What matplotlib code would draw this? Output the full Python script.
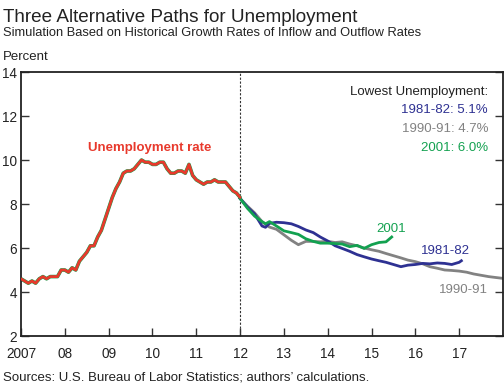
import numpy as np
import matplotlib
matplotlib.use("Agg")
import matplotlib.pyplot as plt

plt.rcParams['font.family'] = ['Liberation Sans', 'DejaVu Sans']

# actual unemployment rate, monthly Jan 2007 - Jan 2012
actual = [4.6, 4.5, 4.4, 4.5, 4.4, 4.6, 4.7, 4.6, 4.7, 4.7, 4.7, 5.0,
          5.0, 4.9, 5.1, 5.0, 5.4, 5.6, 5.8, 6.1, 6.1, 6.5, 6.8, 7.3,
          7.8, 8.3, 8.7, 9.0, 9.4, 9.5, 9.5, 9.6, 9.8, 10.0, 9.9, 9.9,
          9.8, 9.8, 9.9, 9.9, 9.6, 9.4, 9.4, 9.5, 9.5, 9.4, 9.8, 9.3,
          9.1, 9.0, 8.9, 9.0, 9.0, 9.1, 9.0, 9.0, 9.0, 8.8, 8.6, 8.5,
          8.3]
actual_t = 2007 + np.arange(len(actual)) / 12

# simulated paths, read every ~2 months
t_9091 = [2012.0, 2012.17, 2012.33, 2012.5, 2012.67, 2012.83, 2013.0, 2013.17,
          2013.33, 2013.5, 2013.67, 2013.83, 2014.0, 2014.17, 2014.33, 2014.5,
          2014.67, 2014.83, 2015.0, 2015.17, 2015.33, 2015.5, 2015.67, 2015.83,
          2016.0, 2016.17, 2016.33, 2016.5, 2016.67, 2016.83, 2017.0, 2017.17,
          2017.33, 2017.5, 2017.67, 2017.83, 2018.0]
v_9091 = [8.25, 7.9, 7.6, 7.2, 6.95, 6.85, 6.6, 6.35,
          6.15, 6.3, 6.3, 6.28, 6.3, 6.25, 6.28, 6.18,
          6.1, 6.0, 5.92, 5.85, 5.75, 5.65, 5.55, 5.45,
          5.38, 5.28, 5.15, 5.08, 5.0, 4.98, 4.95, 4.9,
          4.82, 4.76, 4.7, 4.66, 4.62]

t_8182 = [2012.0, 2012.17, 2012.33, 2012.5, 2012.58, 2012.67, 2012.83, 2013.0,
          2013.17, 2013.33, 2013.5, 2013.67, 2013.83, 2014.0, 2014.17, 2014.33,
          2014.5, 2014.67, 2014.83, 2015.0, 2015.17, 2015.33, 2015.5, 2015.67,
          2015.83, 2016.0, 2016.17, 2016.33, 2016.5, 2016.67, 2016.83, 2017.0,
          2017.05]
v_8182 = [8.25, 7.85, 7.55, 7.0, 6.94, 7.12, 7.17, 7.15,
          7.1, 6.98, 6.82, 6.7, 6.5, 6.32, 6.1, 5.98,
          5.85, 5.7, 5.6, 5.5, 5.42, 5.35, 5.25, 5.15,
          5.22, 5.25, 5.3, 5.28, 5.32, 5.3, 5.25, 5.35,
          5.42]

t_2001 = [2012.0, 2012.17, 2012.33, 2012.5, 2012.58, 2012.67, 2012.83, 2013.0,
          2013.17, 2013.33, 2013.5, 2013.67, 2013.83, 2014.0, 2014.17, 2014.33,
          2014.5, 2014.67, 2014.83, 2015.0, 2015.17, 2015.33, 2015.46]
v_2001 = [8.25, 7.8, 7.45, 7.2, 7.1, 7.2, 7.0, 6.78,
          6.7, 6.62, 6.42, 6.3, 6.22, 6.22, 6.2, 6.18,
          6.06, 6.12, 5.98, 6.15, 6.25, 6.28, 6.5]

xtick_pos = list(range(2007, 2018))
xtick_lab = ['2007', '08', '09', '10', '11', '12', '13', '14', '15', '16', '17']

red = '#e8392c'
blue = '#2e3192'
gray = '#828282'
green = '#13a150'
dark = '#222222'

fig = plt.figure(figsize=(5.04, 3.85), dpi=100)
ax = fig.add_axes([21 / 504, 49 / 385, 482 / 504, 264 / 385])

ax.plot(actual_t, actual, color=green, lw=2.6, solid_capstyle='round', zorder=2)
ax.plot(actual_t, actual, color=red, lw=2.0, solid_capstyle='round', zorder=3)
ax.plot(t_9091, v_9091, color=gray, lw=2.0, zorder=2)
ax.plot(t_8182, v_8182, color=blue, lw=2.0, zorder=2)
ax.plot(t_2001, v_2001, color=green, lw=2.0, zorder=2)

ax.axvline(2012, color='#333333', lw=0.8, ls=(0, (2, 1.5)), zorder=1)

ax.set_xlim(2007, 2018)
ax.set_ylim(2, 14)
ax.set_xticks(xtick_pos)
ax.set_xticklabels(xtick_lab)
ax.set_yticks(range(2, 15, 2))
ax.tick_params(axis='both', direction='in', length=6, width=1.0, color='#333333',
               labelsize=9.8, labelcolor=dark)
ax.tick_params(axis='y', right=True, pad=3)
ax.tick_params(axis='x', pad=8)
for s in ax.spines.values():
    s.set_linewidth(1.3)
    s.set_color('#222222')

fig.text(3 / 504, 1 - 17 / 385, 'Three Alternative Paths for Unemployment',
         fontsize=13.6, color=dark, va='center', ha='left')
fig.text(3 / 504, 1 - 33 / 385,
         'Simulation Based on Historical Growth Rates of Inflow and Outflow Rates',
         fontsize=9.3, color=dark, va='center', ha='left')
fig.text(3 / 504, 1 - 57 / 385, 'Percent', fontsize=9.5, color=dark,
         va='center', ha='left')
fig.text(3 / 504, 1 - 377 / 385,
         "Sources: U.S. Bureau of Labor Statistics; authors\u2019 calculations.",
         fontsize=9.5, color=dark, va='center', ha='left')

def px(x, y):
    return (x - 21) / 482, (336 - y) / 264

ax.text(*px(488, 92), 'Lowest Unemployment:', transform=ax.transAxes,
        ha='right', va='center', fontsize=9.5, color=dark)
ax.text(*px(488, 110), '1981-82: 5.1%', transform=ax.transAxes,
        ha='right', va='center', fontsize=9.5, color=blue)
ax.text(*px(488, 129), '1990-91: 4.7%', transform=ax.transAxes,
        ha='right', va='center', fontsize=9.5, color=gray)
ax.text(*px(488, 148), '2001: 6.0%', transform=ax.transAxes,
        ha='right', va='center', fontsize=9.5, color=green)

ax.text(*px(150, 148), 'Unemployment rate', transform=ax.transAxes,
        ha='center', va='center', fontsize=9.5, color=red, fontweight='bold')
ax.text(*px(391, 229), '2001', transform=ax.transAxes,
        ha='center', va='center', fontsize=9.5, color=green)
ax.text(*px(445, 251), '1981-82', transform=ax.transAxes,
        ha='center', va='center', fontsize=9.5, color=blue)
ax.text(*px(463, 290), '1990-91', transform=ax.transAxes,
        ha='center', va='center', fontsize=9.5, color=gray)

fig.savefig('out.png', dpi=100)
